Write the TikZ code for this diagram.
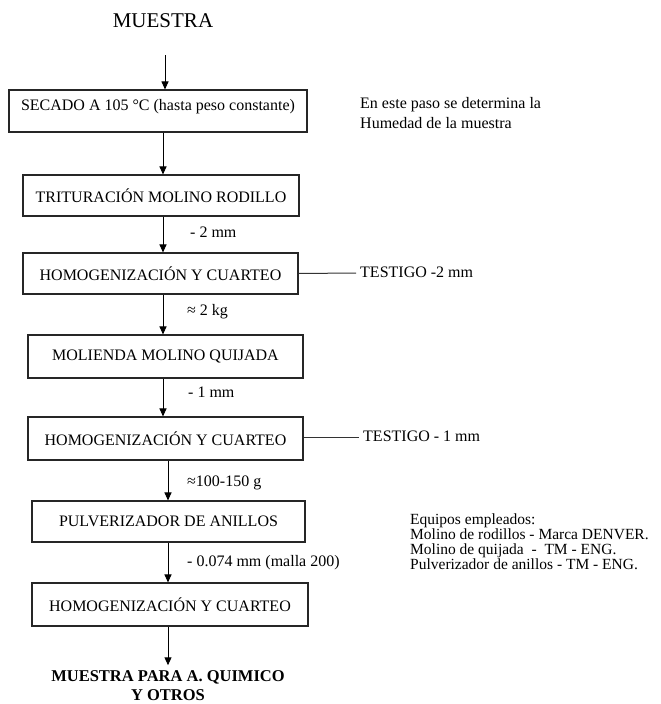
\documentclass[tikz,border=0pt]{standalone}
\usepackage{fontspec}
\setmainfont{Liberation Serif}
\usetikzlibrary{arrows.meta}
\begin{document}
\begin{tikzpicture}[x=1pt,y=-1pt,
  boxnode/.style={draw=black!85, line width=1.1pt, inner sep=0pt, font=\fontsize{16}{19}\selectfont},
  arr/.style={line width=1pt, -{Triangle[length=8pt,width=7pt]}},
  lbl/.style={font=\fontsize{16}{19}\selectfont, anchor=west, inner sep=0pt, text height=11pt, text depth=3pt},
  side/.style={font=\fontsize{16}{19}\selectfont, anchor=west, inner sep=0pt, text height=11pt, text depth=3pt},
  conn/.style={line width=1pt, draw=black!80}]
\useasboundingbox (0,0) rectangle (661,704);

\node[inner sep=0pt, font=\fontsize{21}{25}\selectfont] (muestra) at (163,21) {MUESTRA};

\node[boxnode, minimum width=298pt, minimum height=42pt, text depth=12pt] (b1) at (158,111) {SECADO A 105 °C (hasta peso constante)};
\node[boxnode, minimum width=276pt, minimum height=41pt] (b2) at (161,195.5) {TRITURACIÓN MOLINO RODILLO};
\node[boxnode, minimum width=275pt, minimum height=41pt] (b3) at (160.5,273.5) {HOMOGENIZACIÓN Y CUARTEO};
\node[boxnode, minimum width=275pt, minimum height=43pt] (b4) at (165.5,356.5) {MOLIENDA MOLINO QUIJADA};
\node[boxnode, minimum width=275pt, minimum height=43pt] (b5) at (165.5,438.5) {HOMOGENIZACIÓN Y CUARTEO};
\node[boxnode, minimum width=273pt, minimum height=41pt] (b6) at (168.5,521.5) {PULVERIZADOR DE ANILLOS};
\node[boxnode, minimum width=276pt, minimum height=43pt] (b7) at (170,604.5) {HOMOGENIZACIÓN Y CUARTEO};

\node[inner sep=0pt, align=center, font=\fontsize{16.5}{19}\bfseries\selectfont] (final) at (168,685.5) {MUESTRA PARA A. QUIMICO\\Y OTROS};

\draw[arr] ([xshift=2pt,yshift=-27pt]muestra.south) -- ([xshift=7pt]b1.north);
\draw[arr] ([xshift=5pt]b1.south) -- ([xshift=2pt]b2.north);
\draw[arr] ([xshift=2pt]b2.south) -- ([xshift=2.5pt]b3.north);
\draw[arr] ([xshift=2.5pt]b3.south) -- ([xshift=-2.5pt]b4.north);
\draw[arr] ([xshift=-2.5pt]b4.south) -- ([xshift=-2.5pt]b5.north);
\draw[arr] ([xshift=2.5pt]b5.south) -- ([xshift=-0.5pt]b6.north);
\draw[arr] ([xshift=-0.5pt]b6.south) -- ([xshift=-2pt]b7.north);
\draw[arr] ([xshift=-2pt]b7.south) -- ([yshift=5pt]final.north);

\node[lbl] (l1) at (190,233) {- 2 mm};
\node[lbl] (l2) at (187,311) {≈ 2 kg};
\node[lbl] (l3) at (188,393) {- 1 mm};
\node[lbl] (l4) at (187,482) {≈100-150 g};
\node[lbl] (l5) at (187,562) {- 0.074 mm (malla 200)};

\node[inner sep=0pt, anchor=north west, align=left, font=\fontsize{16}{20}\selectfont] (nota) at (360,97) {En este paso se determina la\\Humedad de la muestra};

\node[side, inner xsep=4pt] (t1) at (356,273) {TESTIGO -2 mm};
\node[side, inner xsep=4pt] (t2) at (359,437) {TESTIGO - 1 mm};
\draw[conn] (b3.east) -- (t1.west);
\draw[conn] ([yshift=1.5pt]b5.east) -- (t2.west);

\node[inner sep=0pt, anchor=north west, align=left, font=\fontsize{15.5}{15}\selectfont] (equipos) at (410,514) {Equipos empleados:\\Molino de rodillos - Marca DENVER.\\Molino de quijada \ - \ TM - ENG.\\Pulverizador de anillos - TM - ENG.};
\end{tikzpicture}
\end{document}
